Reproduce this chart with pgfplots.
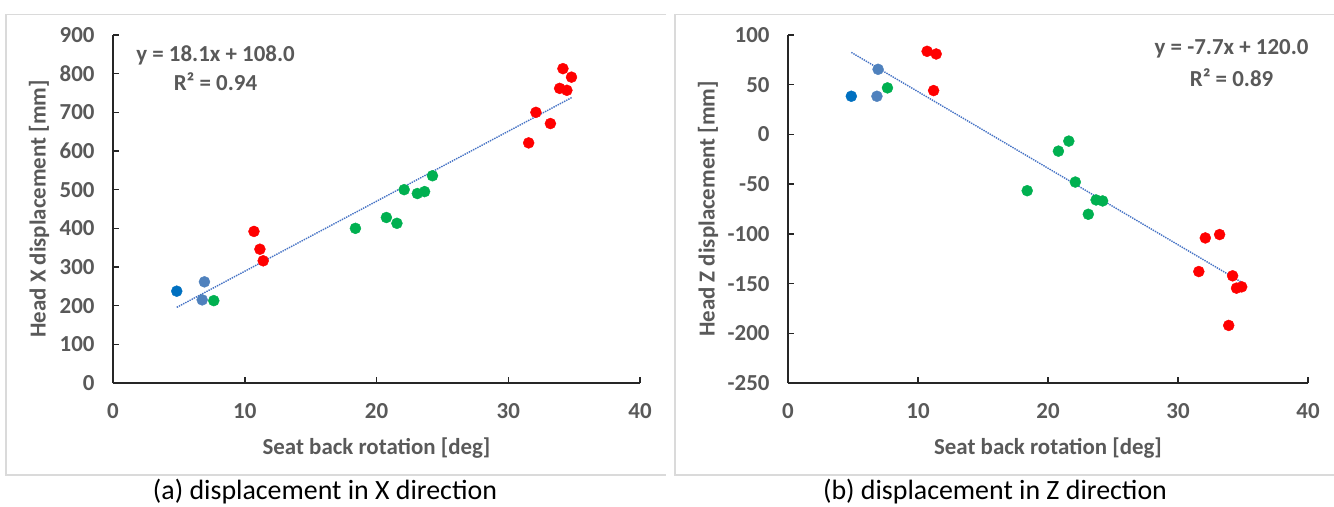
\documentclass[border=0pt]{standalone}
\usepackage{fontspec}
\setmainfont{Carlito}
\usepackage{pgfplots}
\pgfplotsset{compat=1.18}
\definecolor{txtgray}{HTML}{595959}
\definecolor{axgray}{HTML}{262626}
\definecolor{dkblue}{HTML}{0070C0}
\definecolor{stblue}{HTML}{4F81BD}
\definecolor{grn}{HTML}{00B050}
\definecolor{rd}{HTML}{FF0000}
\definecolor{trend}{HTML}{4472C4}
\definecolor{framec}{HTML}{DADADA}
\pgfplotsset{
  mystyle/.style={
    scale only axis, height=348bp,
    axis lines=left, axis line style={-, line width=1.5bp, color=axgray},
    tick align=inside, major tick length=5.5bp,
    every tick/.style={line width=1.5bp, color=axgray},
    xmin=0, xmax=40, xtick={0,10,20,30,40},
    ticklabel style={font=\fontsize{23}{27}\selectfont\bfseries, text=txtgray},
    xticklabel style={yshift=-17bp},
    yticklabel style={xshift=-15bp},
    /pgf/number format/assume math mode=true,
    every axis x label/.style={at={(rel axis cs:0.5,0)}, yshift=-65bp, anchor=center,
      font=\fontsize{23}{27}\selectfont\bfseries, text=txtgray},
    clip=false,
  },
  pts/.style={only marks, mark=*, mark size=5.5bp, mark options={draw=#1, fill=#1}},
  trendl/.style={no marks, color=trend, line width=1.4bp, densely dotted},
}
\begin{document}
\begin{tikzpicture}
\useasboundingbox (0,0) rectangle (1334bp,507bp);
\draw[framec, line width=1.1bp] (666bp,492.3bp) -- (6bp,492.3bp) -- (6bp,32bp) -- (666bp,32bp);
\draw[framec, line width=1.1bp] (1334bp,492.3bp) -- (675bp,492.3bp) -- (675bp,32bp) -- (1334bp,32bp);

% ---------- (a) ----------
\begin{axis}[mystyle, width=527bp, at={(113bp,124bp)}, anchor=south west,
  ymin=0, ymax=900, ytick={0,100,...,900},
  xlabel={Seat back rotation [deg]},
  ylabel={Head X displacement [mm]},
  every axis y label/.style={at={(rel axis cs:0,0.5)}, xshift=-74bp, anchor=center, rotate=90,
      font=\fontsize{23}{27}\selectfont\bfseries, text=txtgray},
]
\addplot[trendl] coordinates {(4.84,195.6) (34.85,738.8)};
\addplot[pts=dkblue] coordinates {(4.84,237.5)};
\addplot[pts=stblue] coordinates {(6.94,261.6) (6.77,215)};
\addplot[pts=grn] coordinates {(7.65,213) (18.4,400) (20.75,428) (21.55,413) (22.1,500) (23.1,490) (23.65,495) (24.25,536)};
\addplot[pts=rd] coordinates {(10.7,392) (11.15,346) (11.4,316) (31.55,621) (32.1,700) (33.2,671) (33.9,762) (34.15,813) (34.45,757) (34.8,791)};
\node[font=\fontsize{23}{27}\selectfont\bfseries, text=txtgray] at (rel axis cs:0.1945,0.9425) {y = 18.1x + 108.0};
\node[font=\fontsize{23}{27}\selectfont\bfseries, text=txtgray] at (rel axis cs:0.1945,0.866) {R² = 0.94};
\end{axis}

% ---------- (b) ----------
\begin{axis}[mystyle, width=520bp, at={(788bp,124bp)}, anchor=south west,
  ymin=-250, ymax=100, ytick={-250,-200,...,100},
  xlabel={Seat back rotation [deg]},
  ylabel={Head Z displacement [mm]},
  every axis y label/.style={at={(rel axis cs:0,0.5)}, xshift=-80bp, anchor=center, rotate=90,
      font=\fontsize{23}{27}\selectfont\bfseries, text=txtgray},
]
\addplot[trendl] coordinates {(4.87,82.5) (34.9,-148.7)};
\addplot[pts=dkblue] coordinates {(4.87,38.4)};
\addplot[pts=stblue] coordinates {(6.93,65.5) (6.84,38.4)};
\addplot[pts=grn] coordinates {(7.65,46.8) (18.4,-56.6) (20.8,-16.8) (21.6,-6.7) (22.1,-47.9) (23.1,-80.3) (23.7,-65.9) (24.2,-66.9)};
\addplot[pts=rd] coordinates {(10.7,83.6) (11.4,80.9) (11.2,44.1) (31.6,-137.9) (32.1,-104.1) (33.2,-100.7) (33.9,-192.1) (34.2,-142.2) (34.5,-154.6) (34.9,-153.3)};
\node[font=\fontsize{23}{27}\selectfont\bfseries, text=txtgray] at (rel axis cs:0.853,0.959) {y = -7.7x + 120.0};
\node[font=\fontsize{23}{27}\selectfont\bfseries, text=txtgray] at (rel axis cs:0.853,0.878) {R² = 0.89};
\end{axis}

\node[font=\fontsize{28}{32}\selectfont, anchor=base, inner sep=0pt] at (325bp,7.5bp) {(a) displacement in X direction};
\node[font=\fontsize{28}{32}\selectfont, anchor=base, inner sep=0pt] at (995bp,7.5bp) {(b) displacement in Z direction};
\end{tikzpicture}
\end{document}
